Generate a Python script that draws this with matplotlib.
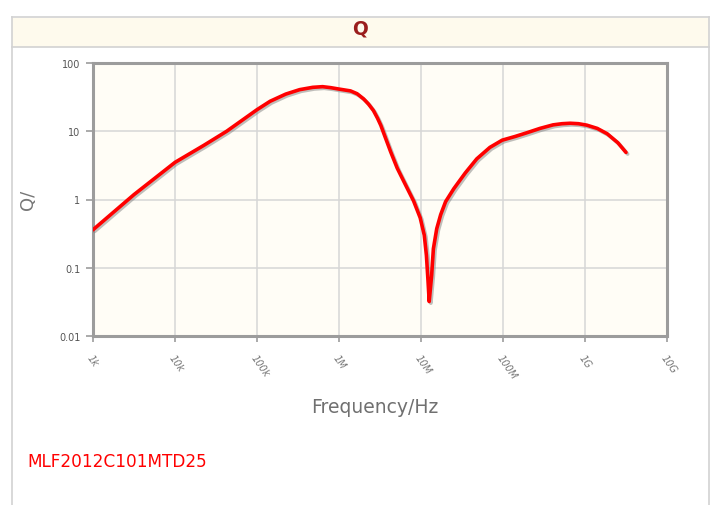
import numpy as np
import matplotlib
matplotlib.use("Agg")
import matplotlib.pyplot as plt
import matplotlib.patheffects as pe
from matplotlib.patches import Rectangle
from matplotlib.lines import Line2D
from matplotlib.ticker import FixedLocator, NullLocator

# values (log10 of frequency in Hz, Q)
log_freq = [3.0, 3.5, 4.0, 4.35, 4.63, 5.0, 5.16, 5.35, 5.52, 5.68, 5.8, 5.9,
            6.0, 6.14, 6.22, 6.3, 6.36, 6.42, 6.47, 6.51, 6.57, 6.63, 6.71,
            6.81, 6.91, 6.99, 7.04, 7.066, 7.086, 7.1, 7.13, 7.151, 7.192,
            7.24, 7.3, 7.4, 7.54, 7.68, 7.84, 7.99, 8.15, 8.29, 8.45,
            8.61, 8.72, 8.82, 8.92, 9.02, 9.15, 9.27, 9.4, 9.5]
q_values = [0.36, 1.18, 3.5, 6.2, 10.0, 20.7, 27.5, 35.0, 40.7, 44.0, 45.0,
            43.5, 41.5, 39.0, 35.5, 29.8, 25.0, 20.1, 15.5, 12.2, 7.8, 5.0,
            2.88, 1.65, 0.95, 0.54, 0.30, 0.152, 0.063, 0.032, 0.078, 0.19,
            0.374, 0.6, 0.93, 1.44, 2.45, 3.94, 5.8, 7.4, 8.4, 9.5, 11.0,
            12.4, 12.9, 13.1, 12.9, 12.3, 11.0, 9.2, 6.8, 4.9]

x_ticks = [1e3, 1e4, 1e5, 1e6, 1e7, 1e8, 1e9, 1e10]
x_labels = ["1k", "10k", "100k", "1M", "10M", "100M", "1G", "10G"]
y_ticks = [0.01, 0.1, 1, 10, 100]
y_labels = ["0.01", "0.1", "1", "10", "100"]

title = "Q"
part_name = "MLF2012C101MTD25"

W, H = 715, 506
fig = plt.figure(figsize=(W / 100, H / 100), dpi=100)
fig.patch.set_facecolor("white")


def fx(px):
    return px / W


def fy(py):
    return 1 - py / H


# panel frame and header band
fig.add_artist(Rectangle((fx(12), fy(48)), fx(709) - fx(12), fy(19) - fy(48),
                         transform=fig.transFigure, facecolor="#fefaed",
                         edgecolor="none", zorder=0))
border = dict(transform=fig.transFigure, color="#d2d2d2", lw=1.2, zorder=1)
fig.add_artist(Line2D([fx(12), fx(12)], [fy(18), 0], **border))
fig.add_artist(Line2D([fx(709), fx(709)], [fy(18), 0], **border))
fig.add_artist(Line2D([fx(12), fx(709)], [fy(18), fy(18)], **border))
fig.add_artist(Line2D([fx(12), fx(709)], [fy(48), fy(48)], **border))

fig.text(fx(360), fy(29), title, ha="center", va="center", fontsize=13.5,
         fontweight="bold", color="#9a1d1d")

ax = fig.add_axes([fx(93), fy(337), fx(667) - fx(93), fy(64) - fy(337)])
ax.set_facecolor("#fffdf6")
ax.set_xscale("log")
ax.set_yscale("log")
ax.set_xlim(1e3, 1e10)
ax.set_ylim(0.01, 100)

ax.xaxis.set_major_locator(FixedLocator(x_ticks))
ax.yaxis.set_major_locator(FixedLocator(y_ticks))
ax.xaxis.set_minor_locator(NullLocator())
ax.yaxis.set_minor_locator(NullLocator())
ax.set_yticklabels(y_labels)
ax.set_xticklabels(x_labels)

ax.grid(True, color="#d6d6d6", lw=1.1, zorder=0)
ax.set_axisbelow(True)

for side in ["top", "bottom", "left", "right"]:
    ax.spines[side].set_color("#9c9c9c")
    ax.spines[side].set_linewidth(2.2)

ax.tick_params(axis="y", length=5, width=1.2, color="#9c9c9c", pad=4,
               labelsize=7, labelcolor="#555555")
ax.tick_params(axis="x", length=4, width=1.2, color="#9c9c9c", pad=8,
               labelsize=7, labelcolor="#777777")
for lab in ax.get_xticklabels():
    lab.set_rotation(-55)
    lab.set_rotation_mode("anchor")
    lab.set_ha("left")
    lab.set_va("top")
    lab.set_fontstyle("italic")

freq = [10 ** v for v in log_freq]
ax.plot(freq, q_values, color="#ff0000", lw=2.6, solid_capstyle="round",
        solid_joinstyle="round", zorder=3,
        path_effects=[pe.SimpleLineShadow(offset=(1.2, -1.2), shadow_color="gray",
                                          alpha=0.5),
                      pe.Normal()])

fig.text(fx(28), fy(200), "Q/", rotation=90, ha="center", va="center",
         fontsize=13, color="#777777")
fig.text(fx(375), fy(408), "Frequency/Hz", ha="center", va="center",
         fontsize=13.5, color="#707070")
fig.text(fx(27), fy(462), part_name, ha="left", va="center", fontsize=12.2,
         color="#ff0000")

fig.savefig("out.png", dpi=100)
